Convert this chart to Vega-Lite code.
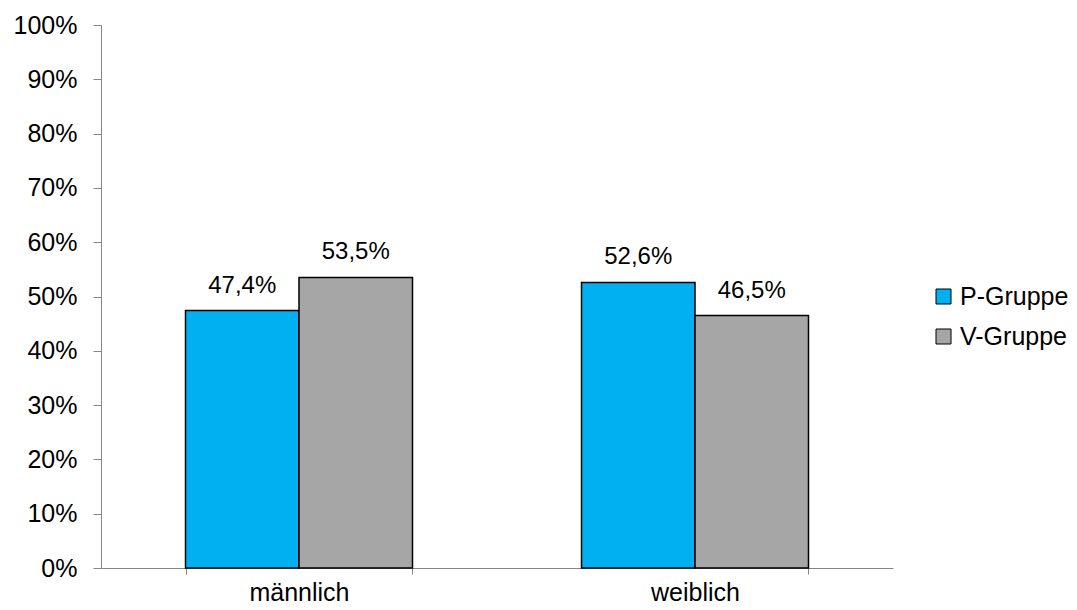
{
  "$schema": "https://vega.github.io/schema/vega-lite/v6.json",
  "width": 792,
  "height": 543,
  "autosize": "none",
  "padding": {"left": 101, "top": 25, "right": 184, "bottom": 42},
  "background": "white",
  "config": {
    "view": {"stroke": null},
    "font": "Liberation Sans",
    "locale": {"number": {"decimal": ",", "thousands": ".", "grouping": [3], "currency": ["", " €"]}}
  },
  "data": {
    "values": [
      {"Geschlecht": "männlich", "Gruppe": "P-Gruppe", "Anteil": 0.474},
      {"Geschlecht": "männlich", "Gruppe": "V-Gruppe", "Anteil": 0.535},
      {"Geschlecht": "weiblich", "Gruppe": "P-Gruppe", "Anteil": 0.526},
      {"Geschlecht": "weiblich", "Gruppe": "V-Gruppe", "Anteil": 0.465}
    ]
  },
  "encoding": {
    "x": {
      "field": "Geschlecht", "type": "nominal", "sort": ["männlich", "weiblich"],
      "scale": {"paddingInner": 0.4268, "paddingOuter": 0.2134},
      "axis": {
        "title": null, "labelAngle": 0, "labelFontSize": 25, "labelColor": "black",
        "labelPadding": 6, "tickBand": "extent", "tickSize": 6, "tickColor": "#868686",
        "domainColor": "#868686", "grid": false, "tickWidth": 1, "domainWidth": 1
      }
    },
    "xOffset": {"field": "Gruppe", "type": "nominal", "scale": {"paddingInner": 0, "paddingOuter": 0}},
    "y": {
      "field": "Anteil", "type": "quantitative",
      "scale": {"domain": [0, 1], "nice": false},
      "axis": {
        "title": null, "format": ".0%", "values": [0, 0.1, 0.2, 0.3, 0.4, 0.5, 0.6, 0.7, 0.8, 0.9, 1],
        "labelFontSize": 25, "labelColor": "black", "labelPadding": 16, "tickSize": 8,
        "tickColor": "#868686", "domainColor": "#868686", "grid": false
      }
    }
  },
  "layer": [
    {
      "mark": {"type": "bar", "stroke": "black", "strokeWidth": 1.5},
      "encoding": {
        "color": {
          "field": "Gruppe", "type": "nominal",
          "scale": {"domain": ["P-Gruppe", "V-Gruppe"], "range": ["#00B0F0", "#A6A6A6"]},
          "legend": {
            "title": null, "orient": "none", "legendX": 830, "legendY": 259,
            "symbolType": "square", "symbolSize": 225, "symbolStrokeColor": "black",
            "symbolStrokeWidth": 1, "symbolOpacity": 1, "labelFontSize": 25, "labelColor": "black",
            "labelOffset": 4, "rowPadding": 14
          }
        }
      }
    },
    {
      "mark": {"type": "text", "baseline": "alphabetic", "dy": -18, "fontSize": 24, "color": "black"},
      "encoding": {
        "text": {"field": "Anteil", "type": "quantitative", "format": ".1%"}
      }
    }
  ]
}
